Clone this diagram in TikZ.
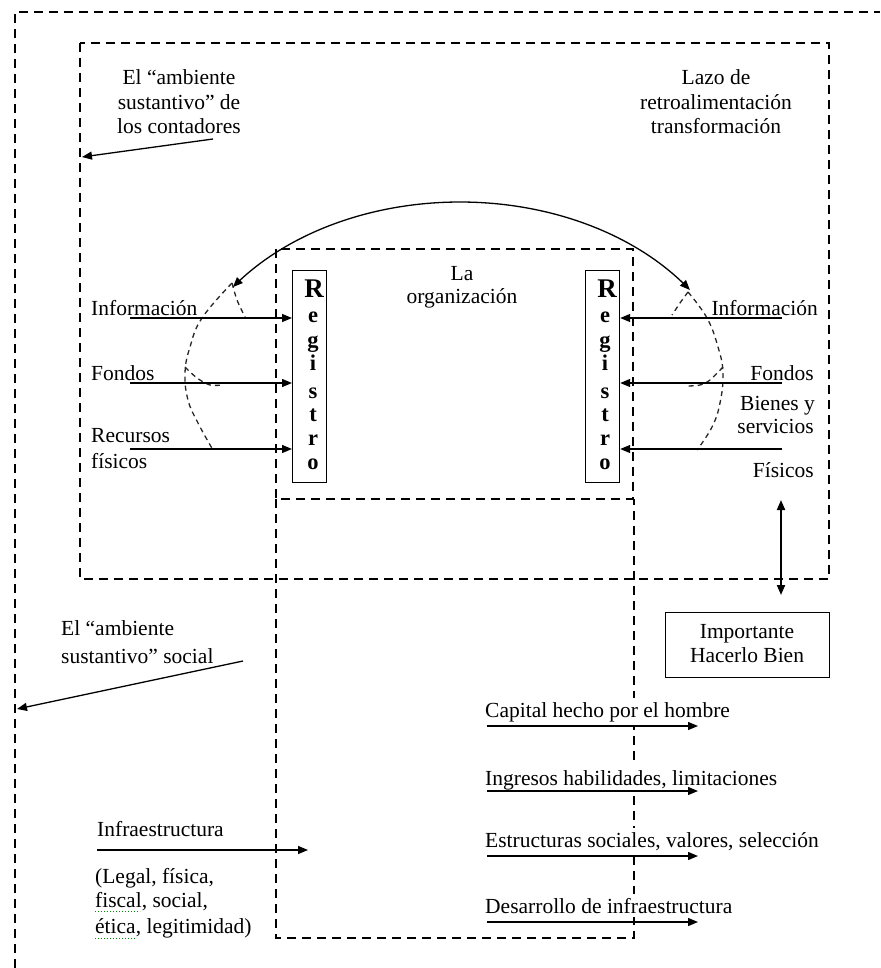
\documentclass[tikz,border=0pt]{standalone}
\usepackage{fontspec}
\setmainfont{Liberation Serif}
\usetikzlibrary{arrows.meta}
\begin{document}
\begin{tikzpicture}[x=1pt,y=-1pt,
  every node/.style={inner sep=0pt, font=\fontsize{21.5}{25}\selectfont},
  frame/.style={line width=1.8pt, dash pattern=on 9pt off 6pt},
  thindash/.style={line width=1.3pt, dash pattern=on 5pt off 4pt, black!85},
  tip/.tip={Triangle[length=10pt,width=8pt]},
  arr/.style={line width=1.3pt, -tip},
  lbl/.style={anchor=base west},
  rlbl/.style={anchor=base east},
  clbl/.style={anchor=base},
  regbox/.style={draw, line width=1.2pt, minimum width=34pt, minimum height=212pt, anchor=north west},
  regletter/.style={anchor=base, font=\fontsize{22.5}{25}\selectfont\bfseries},
  regR/.style={anchor=base, font=\fontsize{27}{28}\selectfont\bfseries},
  hide/.style={fill=white},
  spell/.style={green!55!black, line width=1pt, dotted}
]
\useasboundingbox (0,0) rectangle (880,968);

% outer environment (social)
\draw[frame] (15,968) -- (15,12) -- (880,12);
% accountants' environment
\draw[frame] (80,43) rectangle (829,579);
% organisation
\draw[frame] (276,249) rectangle (633,499);
% lower region
\draw[frame] (276,499) -- (276,938) -- (634,938) -- (634,499);

% dashed feedback curves
\draw[thindash] plot[smooth, tension=0.7] coordinates {(232,283) (202,318) (190,347) (185,373) (188,400) (198,423) (213,450)};
\draw[thindash] plot[smooth] coordinates {(232,283) (237,300) (245,317)};
\draw[thindash] plot[smooth] coordinates {(185,367) (197,378) (210,385) (223,385)};
\draw[thindash] plot[smooth, tension=0.7] coordinates {(688,292) (707,318) (718,347) (723,373) (720,403) (712,427) (697,450)};
\draw[thindash] plot[smooth] coordinates {(688,292) (680,303) (672,315)};
\draw[thindash] plot[smooth] coordinates {(723,367) (710,380) (700,385) (688,386)};

% big feedback arc
\draw[line width=1.3pt, tip-tip] plot[domain=215.8:325.2, samples=80, smooth] ({460+280*cos(\x)},{407+205*sin(\x)});

% titles
\node[clbl] (acc1) at (179,85) {El “ambiente};
\node[clbl] (acc2) at (179,110) {sustantivo” de};
\node[clbl] (acc3) at (179,134) {los contadores};
\node[clbl] (lazo1) at (716,85) {Lazo de};
\node[clbl] (lazo2) at (716,110) {retroalimentación};
\node[clbl] (lazo3) at (716,134) {transformación};
\node[clbl] (org1) at (462,280) {La};
\node[clbl] (org2) at (462,303) {organización};

\coordinate (accFrom) at (213,139);
\coordinate (accTo) at (82,157);
\draw[arr] (accFrom) -- (accTo);

% Registro boxes
\node[regbox] (regL) at (292,270) {};
\node[regbox] (regR) at (585,270) {};
\node[regR] (rL0) at (314,297) {R};
\node[regR] (rR0) at (607,297) {R};
\foreach \l/\y [count=\i] in {e/322,g/347,i/370,s/398,t/421,r/445,o/469}{
  \node[regletter] (rL\i) at (313,\y) {\l};
  \node[regletter] (rR\i) at (605,\y) {\l};
}

% left inputs
\node[lbl] (infL) at (91,315) {Información};
\node[lbl] (fonL) at (91,380) {Fondos};
\node[lbl] (recL1) at (91,442) {Recursos};
\node[lbl] (recL2) at (91,468) {físicos};
\coordinate (aL1) at (130,318);
\coordinate (aL2) at (130,383);
\coordinate (aL3) at (130,449);
\draw[arr] (aL1) -- (regL.west |- aL1);
\draw[arr] (aL2) -- (regL.west |- aL2);
\draw[arr] (aL3) -- (regL.west |- aL3);

% right inputs
\node[rlbl] (infR) at (818,315) {Información};
\node[rlbl] (fonR) at (814,380) {Fondos};
\node[rlbl] (bieR1) at (815,410) {Bienes y};
\node[rlbl] (bieR2) at (814,433) {servicios};
\node[rlbl] (fisR) at (814,477) {Físicos};
\coordinate (aR1) at (782,318);
\coordinate (aR2) at (782,383);
\coordinate (aR3) at (782,449);
\draw[arr] (aR1) -- (regR.east |- aR1);
\draw[arr] (aR2) -- (regR.east |- aR2);
\draw[arr] (aR3) -- (regR.east |- aR3);

% double arrow and box
\node[draw, line width=1.2pt, minimum width=164pt, minimum height=65pt, anchor=north west] (imp) at (665,612) {};
\node[clbl] (imp1) at (747,638) {Importante};
\node[clbl] (imp2) at (747,662) {Hacerlo Bien};
\coordinate (dTop) at (781,500);
\coordinate (dBot) at (781,595);
\draw[line width=2pt, tip-tip] (dTop) -- (dBot);

% social environment
\node[lbl] (soc1) at (61,635) {El “ambiente};
\node[lbl] (soc2) at (61,663) {sustantivo” social};
\coordinate (socFrom) at (243,661);
\coordinate (socTo) at (17,709);
\draw[arr] (socFrom) -- (socTo);

% infrastructure
\node[lbl] (inf0) at (97,836) {Infraestructura};
\node[lbl] (inf1) at (95,883) {(Legal, física,};
\node[lbl] (inf2) at (95,907) {fiscal, social,};
\node[lbl] (inf3) at (95,933) {ética, legitimidad)};
\draw[spell] (95,911) -- (140,911);
\draw[spell] (95,938) -- (137,938);
\coordinate (infFrom) at (97,850);
\coordinate (infTo) at (308,850);
\draw[arr] (infFrom) -- (infTo);

% outputs
\node[lbl, hide, inner ysep=4pt] (out1) at (485,717) {Capital hecho por el hombre};
\node[lbl, hide, inner ysep=4pt] (out2) at (485,785) {Ingresos habilidades, limitaciones};
\node[lbl, hide, inner ysep=4pt] (out3) at (485,847) {Estructuras sociales, valores, selección};
\node[lbl, hide, inner ysep=4pt] (out4) at (485,913) {Desarrollo de infraestructura};
\foreach \y [count=\i] in {726,791,856,922}{
  \coordinate (oF\i) at (487,\y);
  \coordinate (oT\i) at (698,\y);
  \draw[arr] (oF\i) -- (oT\i);
}
\end{tikzpicture}
\end{document}
